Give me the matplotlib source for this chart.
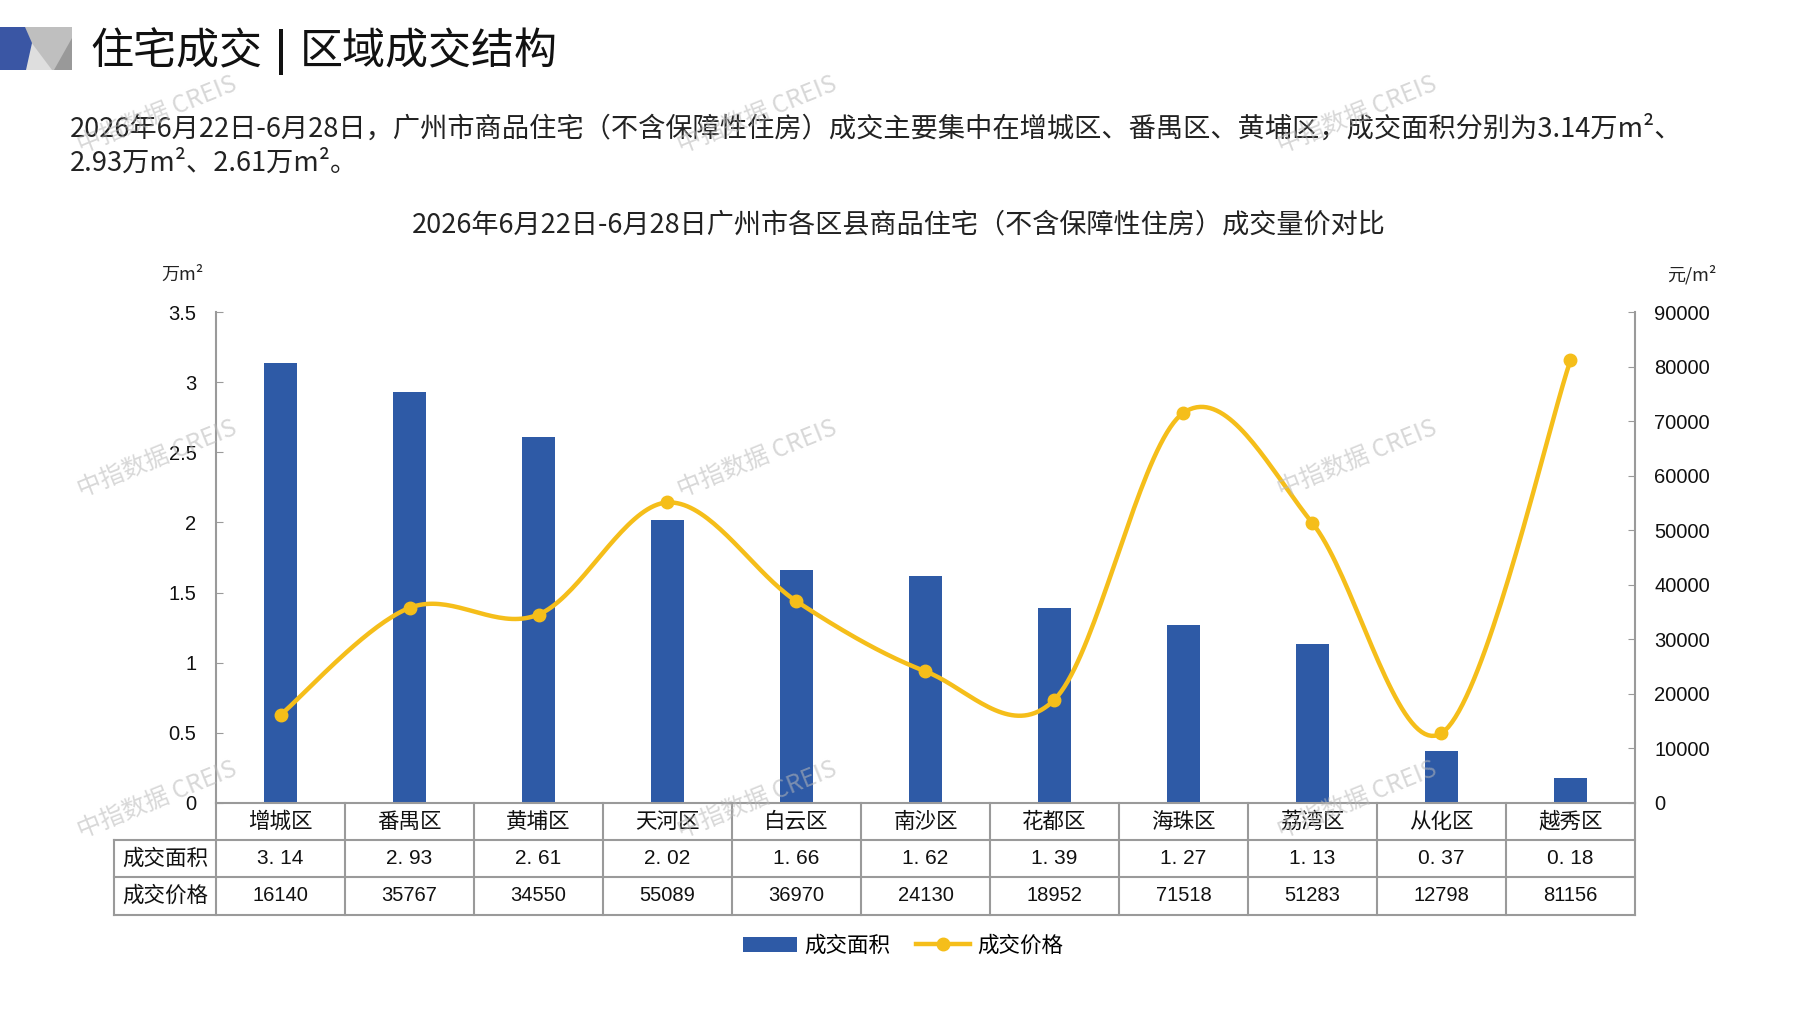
import numpy as np
import matplotlib
matplotlib.use("Agg")
import matplotlib.pyplot as plt
from matplotlib.patches import Polygon, Patch
from matplotlib.lines import Line2D

plt.rcParams['font.family'] = ['Noto Sans CJK SC', 'DejaVu Sans']

districts = ["增城区", "番禺区", "黄埔区", "天河区", "白云区", "南沙区",
             "花都区", "海珠区", "荔湾区", "从化区", "越秀区"]
area = [3.14, 2.93, 2.61, 2.02, 1.66, 1.62, 1.39, 1.27, 1.13, 0.37, 0.18]
price = [16140, 35767, 34550, 55089, 36970, 24130, 18952, 71518, 51283, 12798, 81156]
area_labels = ["3. 14", "2. 93", "2. 61", "2. 02", "1. 66", "1. 62", "1. 39",
               "1. 27", "1. 13", "0. 37", "0. 18"]
row_names = ["成交面积", "成交价格"]

title_a = "住宅成交"
title_b = "区域成交结构"
para1 = "2026年6月22日-6月28日，广州市商品住宅（不含保障性住房）成交主要集中在增城区、番禺区、黄埔区，成交面积分别为3.14万m²、"
para2 = "2.93万m²、2.61万m²。"
chart_title = "2026年6月22日-6月28日广州市各区县商品住宅（不含保障性住房）成交量价对比"

BLUE = "#2E5AA6"
GOLD = "#F5BE1A"
GRID = "#9a9a9a"
NUM = ['Liberation Sans', 'Noto Sans CJK SC']

W, H = 1797, 1010
fig = plt.figure(figsize=(W / 100, H / 100), dpi=100)


def fx(x):
    return x / W


def fy(y):
    return 1 - y / H


# logo block
for pts, col in [
    ([(25, 27), (72, 27), (72, 70), (25, 70)], "#bfbfbf"),
    ([(31, 42), (25, 70), (52, 70)], "#dedede"),
    ([(72, 38), (72, 70), (54, 70)], "#999999"),
    ([(0, 27), (25, 27), (32, 43), (26, 70), (0, 70)], "#3A56A4"),
]:
    fig.patches.append(Polygon([(fx(a), fy(b)) for a, b in pts], closed=True,
                               transform=fig.transFigure, color=col, lw=0))

# page title with a heavy separator bar
fig.text(fx(90), fy(52), title_a, fontsize=31, va='center', ha='left', color="#111111")
fig.text(fx(300), fy(52), title_b, fontsize=31, va='center', ha='left', color="#111111")
fig.patches.append(Polygon([(fx(279), fy(29)), (fx(283), fy(29)), (fx(283), fy(75)), (fx(279), fy(75))],
                           closed=True, transform=fig.transFigure, color="#111111", lw=0))

fig.text(fx(70), fy(129), para1, fontsize=19.6, va='center', ha='left', color="#222222")
fig.text(fx(70), fy(163), para2, fontsize=19.6, va='center', ha='left', color="#222222")
fig.text(fx(899), fy(225), chart_title, fontsize=19.5, va='center', ha='center', color="#222222")
fig.text(fx(183), fy(275), "万m²", fontsize=13, va='center', ha='center', color="#222222")
fig.text(fx(1692), fy(275), "元/m²", fontsize=13, va='center', ha='center', color="#222222")

# main axes
left, right, top, bottom = 216, 1635, 312, 803
ax = fig.add_axes([fx(left), fy(bottom), (right - left) / W, (bottom - top) / H])
x = np.arange(len(districts))
ax.bar(x, area, width=0.256, color=BLUE, zorder=2)
ax.set_xlim(-0.5, len(districts) - 0.5)
ax.set_ylim(0, 3.5)
ax.set_yticks(np.arange(0, 3.51, 0.5))
ax.set_yticklabels(["%g" % v for v in np.arange(0, 3.51, 0.5)], fontfamily=NUM)
ax.set_xticks([])
ax.tick_params(axis='y', direction='in', length=5, color=GRID, pad=14,
               labelsize=14.5, labelcolor="#111111")
for s in ['top', 'right', 'bottom']:
    ax.spines[s].set_visible(False)
ax.spines['left'].set_color(GRID)
ax.spines['left'].set_linewidth(1.5)

ax2 = ax.twinx()
ax2.set_ylim(0, 90000)
ax2.set_yticks(np.arange(0, 90001, 10000))
ax2.set_yticklabels([str(v) for v in range(0, 90001, 10000)], fontfamily=NUM)
ax2.tick_params(axis='y', direction='in', length=5, color=GRID, pad=14,
                labelsize=14.5, labelcolor="#111111")
for s in ['top', 'left', 'bottom']:
    ax2.spines[s].set_visible(False)
ax2.spines['right'].set_color(GRID)
ax2.spines['right'].set_linewidth(1.5)


def smooth(xs, ys, n=40):
    p = np.column_stack([xs, ys]).astype(float)
    p = np.vstack([p[0], p, p[-1]])
    out = []
    t = np.linspace(0, 1, n)[:, None]
    for i in range(1, len(p) - 2):
        p0, p1, p2, p3 = p[i - 1], p[i], p[i + 1], p[i + 2]
        c1 = p1 + (p2 - p0) / 6
        c2 = p2 - (p3 - p1) / 6
        seg = (1 - t) ** 3 * p1 + 3 * (1 - t) ** 2 * t * c1 + 3 * (1 - t) * t ** 2 * c2 + t ** 3 * p2
        out.append(seg if i == 1 else seg[1:])
    return np.vstack(out)


curve = smooth(x, price)
ax2.plot(curve[:, 0], curve[:, 1], color=GOLD, lw=3.2, solid_capstyle='round', zorder=3)
ax2.plot(x, price, 'o', color=GOLD, ms=9, zorder=4)

# data table under the axis
tr = ax.get_xaxis_transform()
rh = (840 - 803) / (bottom - top)
hx = -0.5 - (left - 114) / ((right - left) / len(districts))
y_rows = [0, -rh, -2 * rh, -3.02 * rh]
n = len(districts)
lk = dict(color=GRID, lw=1.5, transform=tr, clip_on=False, zorder=5)
ax.plot([-0.5, n - 0.5], [0, 0], **lk)
for yy in y_rows[1:]:
    ax.plot([hx, n - 0.5], [yy, yy], **lk)
for i in range(n + 1):
    ax.plot([i - 0.5, i - 0.5], [0, y_rows[-1]], **lk)
ax.plot([hx, hx], [y_rows[1], y_rows[-1]], **lk)

for i in range(n):
    ax.text(i, -0.5 * rh, districts[i], transform=tr, ha='center', va='center',
            fontsize=15.5, color="#111111")
    ax.text(i, -1.5 * rh, area_labels[i], transform=tr, ha='center', va='center',
            fontsize=15, color="#111111", fontfamily=NUM)
    ax.text(i, -2.5 * rh, str(price[i]), transform=tr, ha='center', va='center',
            fontsize=14.5, color="#111111", fontfamily=NUM)
for j, name in enumerate(row_names):
    ax.text((hx - 0.5) / 2, -(1.5 + j) * rh, name, transform=tr, ha='center',
            va='center', fontsize=15.5, color="#111111")

# legend
handles = [Patch(facecolor=BLUE, edgecolor='none', label="成交面积"),
           Line2D([], [], color=GOLD, lw=3.2, marker='o', ms=9, label="成交价格")]
fig.legend(handles=handles, loc='center', bbox_to_anchor=(fx(903), fy(946)), ncol=2,
           frameon=False, fontsize=15.5, handlelength=2.5, handletextpad=0.35,
           columnspacing=1.2)

# watermarks
for wx in [157, 757, 1357]:
    for wy in [115, 459, 800]:
        fig.text(fx(wx), fy(wy), "中指数据 CREIS", fontsize=17.5, rotation=22,
                 ha='center', va='center', color="#b8b8b8", alpha=0.55, zorder=10)

fig.savefig("out.png", dpi=100)
